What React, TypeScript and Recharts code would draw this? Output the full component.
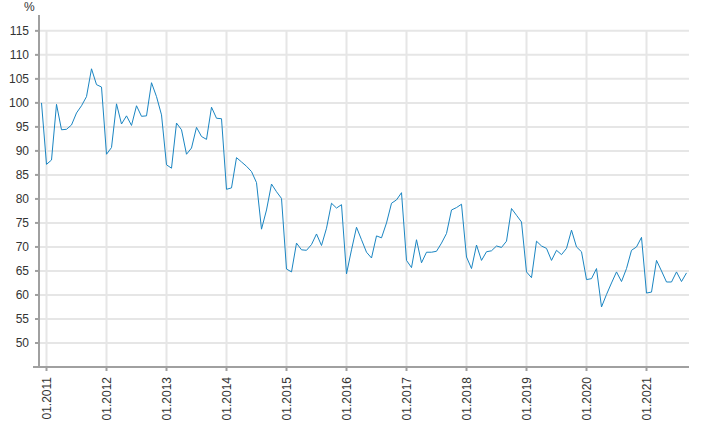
import { CartesianGrid, Line, LineChart, ReferenceLine, XAxis, YAxis } from "recharts";

// monthly values, first point is 12.2010, last is 09.2021
const values = [
  100,
  87.2, 88.1, 99.7, 94.4, 94.5, 95.4, 97.9, 99.4, 101.3, 107.1, 103.8, 103.3,
  89.3, 90.7, 99.8, 95.6, 97.3, 95.3, 99.4, 97.2, 97.3, 104.2, 101.3, 97.5,
  87.1, 86.4, 95.8, 94.4, 89.3, 90.6, 94.9, 93.0, 92.4, 99.1, 96.8, 96.7,
  82.0, 82.3, 88.6, 87.7, 86.8, 85.7, 83.4, 73.7, 77.7, 83.1, 81.5, 80.1,
  65.4, 64.8, 70.8, 69.4, 69.3, 70.5, 72.7, 70.3, 73.9, 79.1, 78.1, 78.8,
  64.4, 69.4, 74.1, 71.5, 68.9, 67.7, 72.3, 71.9, 75.0, 79.1, 79.8, 81.3,
  67.2, 65.7, 71.5, 66.7, 68.9, 68.9, 69.1, 70.8, 72.8, 77.7, 78.2, 78.9,
  67.9, 65.5, 70.4, 67.2, 69.0, 69.2, 70.2, 69.9, 71.2, 78.0, 76.6, 75.2,
  64.8, 63.6, 71.2, 70.2, 69.7, 67.2, 69.3, 68.4, 69.7, 73.5, 70.0, 69.0,
  63.2, 63.4, 65.5, 57.5, 60.1, 62.5, 64.8, 62.8, 65.5, 69.3, 70.0, 72.0,
  60.4, 60.6, 67.2, 65.0, 62.7, 62.7, 64.8, 62.8, 64.6,
];

const tickYears = [2011, 2012, 2013, 2014, 2015, 2016, 2017, 2018, 2019, 2020, 2021];
const yTicks = [50, 55, 60, 65, 70, 75, 80, 85, 90, 95, 100, 105, 110, 115];

// month index relative to 01.2011
const data = values.map((v, i) => ({ m: i - 1, v }));
const xTicks = tickYears.map((y) => (y - 2011) * 12);

const font = "Arial, 'Liberation Sans', sans-serif";

function MonthTick({ x, y, payload }: any) {
  const year = 2011 + Math.round(payload.value / 12);
  return (
    <text
      x={x}
      y={y}
      transform={`rotate(-90, ${x}, ${y})`}
      textAnchor="end"
      dy="0.36em"
      fontSize={12}
      fontFamily={font}
      fill="#333"
    >
      {`01.${year}`}
    </text>
  );
}

export default function App() {
  return (
    <div style={{ position: "absolute", left: 0, top: 0, width: 710, height: 432, background: "#fff" }}>
      <div
        style={{
          position: "absolute",
          left: 24,
          top: 0,
          fontSize: 12,
          fontFamily: font,
          color: "#333",
        }}
      >
        %
      </div>
      <LineChart width={710} height={432} data={data} margin={{ top: 15, right: 21, left: 0, bottom: 0 }}>
        <CartesianGrid vertical={false} syncWithTicks stroke="#e6e6e6" strokeWidth={2} />
        {xTicks.map((t) => (
          <ReferenceLine
            key={t}
            segment={[
              { x: t, y: 45 },
              { x: t, y: 115 },
            ]}
            stroke="#e6e6e6"
            strokeWidth={2}
          />
        ))}
        <XAxis
          type="number"
          dataKey="m"
          domain={[-1.5, 128.5]}
          ticks={xTicks}
          interval={0}
          height={65}
          tick={<MonthTick />}
          tickSize={4}
          tickMargin={6}
          axisLine={{ stroke: "#a0a0a0", strokeWidth: 2 }}
          tickLine={{ stroke: "#a0a0a0", strokeWidth: 2 }}
        />
        <YAxis
          type="number"
          domain={[45, 118.3]}
          ticks={yTicks}
          interval={0}
          width={39}
          tickSize={4}
          tickMargin={6}
          tick={{ fontSize: 12, fontFamily: font, fill: "#333" }}
          axisLine={{ stroke: "#a0a0a0", strokeWidth: 2 }}
          tickLine={{ stroke: "#a0a0a0", strokeWidth: 2 }}
        />
        <ReferenceLine
          segment={[
            { x: -2.7, y: 45 },
            { x: -1.5, y: 45 },
          ]}
          ifOverflow="visible"
          stroke="#a0a0a0"
          strokeWidth={2}
        />
        <Line
          type="linear"
          dataKey="v"
          stroke="#1a85c2"
          strokeWidth={1}
          dot={false}
          isAnimationActive={false}
        />
      </LineChart>
    </div>
  );
}
